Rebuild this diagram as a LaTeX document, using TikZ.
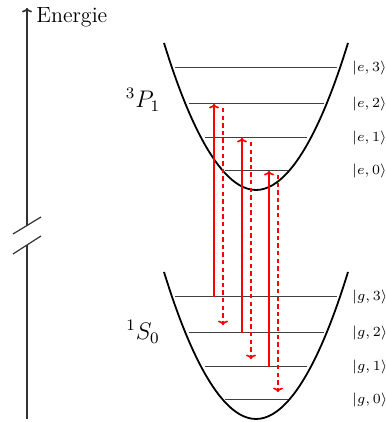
\documentclass[tikz,border=0pt]{standalone}
\usepackage{amsmath,amssymb}
\usepackage{xcolor}
\usepackage{tikz}
\usetikzlibrary{arrows.meta}

\begin{document}
\begin{tikzpicture}[x=0.5pt, y=0.5pt,
    well/.style={line width=0.9pt},
    level/.style={black!75, line width=0.5pt},
    ket/.style={anchor=west, font=\scriptsize, inner sep=1pt},
    absorb/.style={red, line width=0.8pt, -{To[length=2.2pt,width=5pt]}},
    emit/.style={red, line width=0.8pt, dash pattern=on 2.2pt off 1.6pt,
                 -{To[length=2.2pt,width=5pt]}}]
  \useasboundingbox (0,0) rectangle (385,422);

  % energy axis, broken
  \coordinate (ax0) at (27,3);
  \coordinate (axb1) at (27,177);
  \coordinate (axb2) at (27,196);
  \coordinate (ax1) at (27,414);
  \draw[black!80, line width=0.8pt] (ax0) -- (axb1);
  \draw[black!80, line width=0.8pt, -{To[length=2.2pt,width=5pt]}] (axb2) -- (ax1);
  \draw[black!80, line width=0.6pt] (13,168) -- (41,186);
  \draw[black!80, line width=0.6pt] (13,188) -- (41,205);
  \node[anchor=base west, inner sep=0pt, font=\fontsize{11}{13}\selectfont]
       (energy) at (36,399) {Energie};

  % potential wells
  \draw[well] (164,379) parabola bend (256,232) (348,379);
  \draw[well] (164,150) parabola bend (256,3) (348,150);
  \node[font=\large] (P1) at (143,322) {$^3P_1$};
  \node[font=\large] (S0) at (143,90) {$^1S_0$};

  % vibrational levels
  \foreach \n/\y/\w in {0/251/31.5, 1/284/51, 2/318/67.5, 3/354/81} {
    \draw[level] (256-\w,\y) -- (256+\w,\y);
    \draw[level] (256-\w,\y-229) -- (256+\w,\y-229);
    \node[ket] (e\n) at (350,\y) {$|e,\n\rangle$};
    \node[ket] (g\n) at (350,\y-229) {$|g,\n\rangle$};
  }

  % transitions: up from |g,k+1>, down to |g,k>
  \foreach \k/\xa/\ye/\ys/\yg in {2/214/318/125/89, 1/242/284/89/55, 0/269/251/55/22} {
    \coordinate (ab\k s) at (\xa,\ys);
    \coordinate (ab\k e) at (\xa,\ye);
    \coordinate (em\k s) at (\xa+9,\ye-4);
    \coordinate (em\k e) at (\xa+9,\yg+8);
    \draw[absorb] (ab\k s) -- (ab\k e);
    \draw[emit] (em\k s) -- (em\k e);
  }
\end{tikzpicture}
\end{document}
